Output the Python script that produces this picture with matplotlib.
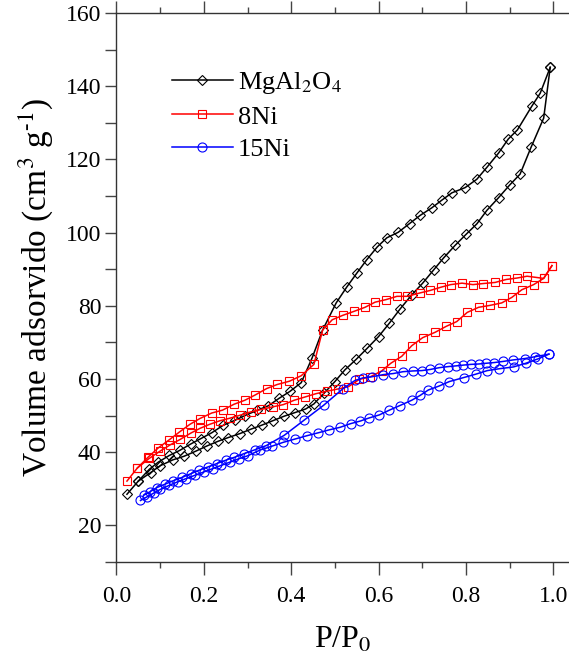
import matplotlib
matplotlib.use("Agg")
import matplotlib.pyplot as plt
from matplotlib.ticker import MultipleLocator

plt.rcParams['font.family'] = ['Liberation Serif', 'DejaVu Serif']
plt.rcParams['mathtext.fontset'] = 'stix'

# MgAl2O4 support
mg_ads_p = [0.024, 0.05, 0.078, 0.10, 0.129, 0.155, 0.182, 0.207, 0.233, 0.256, 0.283, 0.308,
            0.333, 0.358, 0.383, 0.408, 0.433, 0.452, 0.476, 0.500, 0.523, 0.549, 0.574, 0.600,
            0.625, 0.649, 0.676, 0.701, 0.726, 0.749, 0.775, 0.800, 0.825, 0.848, 0.875, 0.900,
            0.924, 0.949, 0.978, 0.993]
mg_ads_v = [28.5, 32.1, 34.4, 36.3, 37.9, 38.9, 40.3, 41.7, 43.0, 44.0, 45.1, 46.3,
            47.4, 48.6, 49.8, 50.8, 51.8, 53.2, 56.2, 59.3, 62.5, 65.4, 68.4, 71.6,
            75.3, 79.1, 83.0, 86.2, 89.8, 93.1, 96.5, 99.5, 102.4, 106.1, 109.6, 113.0,
            116.0, 123.3, 131.3, 145.2]
mg_des_p = [0.993, 0.970, 0.951, 0.918, 0.897, 0.875, 0.849, 0.825, 0.798, 0.768, 0.745, 0.722,
            0.695, 0.671, 0.645, 0.619, 0.597, 0.573, 0.550, 0.527, 0.503, 0.472, 0.448, 0.423,
            0.397, 0.372, 0.348, 0.321, 0.294, 0.271, 0.245, 0.218, 0.193, 0.171, 0.145, 0.121,
            0.096, 0.075, 0.050]
mg_des_v = [145.2, 138.1, 134.6, 128.1, 125.6, 121.8, 118.0, 114.6, 112.3, 110.9, 108.9, 106.8,
            104.7, 102.5, 100.1, 98.6, 96.1, 92.6, 88.9, 85.1, 80.8, 73.4, 65.8, 59.0,
            56.6, 54.7, 52.7, 51.4, 50.0, 48.7, 47.4, 45.3, 43.7, 42.3, 40.5, 39.1,
            37.3, 35.3, 32.1]

# 8Ni
ni8_ads_p = [0.024, 0.048, 0.075, 0.10, 0.123, 0.146, 0.170, 0.191, 0.213, 0.237, 0.260, 0.283,
             0.307, 0.332, 0.358, 0.382, 0.407, 0.432, 0.457, 0.483, 0.508, 0.531, 0.556, 0.581,
             0.607, 0.628, 0.653, 0.676, 0.701, 0.730, 0.755, 0.779, 0.803, 0.829, 0.854, 0.882,
             0.905, 0.928, 0.955, 0.978, 0.997]
ni8_ads_v = [32.1, 35.7, 38.3, 40.3, 42.0, 43.5, 45.2, 46.5, 47.6, 48.6, 49.3, 50.1,
             51.0, 51.7, 52.4, 53.0, 54.2, 55.1, 56.0, 56.7, 57.3, 57.9, 59.9, 60.6,
             62.2, 64.3, 66.2, 69.1, 71.3, 72.8, 74.4, 75.7, 78.2, 79.6, 80.1, 80.8,
             82.3, 84.4, 85.8, 87.5, 91.0]
ni8_des_p = [0.997, 0.978, 0.940, 0.917, 0.892, 0.867, 0.840, 0.816, 0.791, 0.765, 0.743, 0.718,
             0.694, 0.666, 0.642, 0.617, 0.592, 0.569, 0.544, 0.518, 0.494, 0.472, 0.452, 0.423,
             0.396, 0.368, 0.344, 0.317, 0.294, 0.269, 0.243, 0.218, 0.191, 0.168, 0.144, 0.121,
             0.096, 0.073, 0.048]
ni8_des_v = [91.0, 87.5, 88.1, 87.6, 87.2, 86.4, 86.1, 85.8, 86.2, 85.8, 85.1, 84.2,
             83.5, 82.6, 82.6, 81.7, 81.0, 79.6, 78.5, 77.4, 76.2, 73.4, 64.0, 60.9,
             59.4, 58.5, 57.4, 55.6, 54.2, 53.1, 51.5, 50.7, 49.2, 47.6, 45.5, 43.4,
             41.2, 38.7, 35.7]

# 15Ni
ni15_ads_p = [0.055, 0.070, 0.085, 0.100, 0.120, 0.140, 0.160, 0.180, 0.200, 0.220, 0.240, 0.260,
              0.280, 0.300, 0.329, 0.355, 0.382, 0.409, 0.436, 0.462, 0.487, 0.512, 0.536, 0.558,
              0.577, 0.602, 0.625, 0.648, 0.676, 0.695, 0.714, 0.739, 0.762, 0.795, 0.822, 0.849,
              0.876, 0.909, 0.937, 0.965, 0.990]
ni15_ads_v = [26.8, 27.8, 28.8, 29.8, 30.9, 31.9, 32.8, 33.7, 34.6, 35.5, 36.4, 37.3,
              38.2, 39.0, 40.6, 41.6, 42.7, 43.6, 44.5, 45.3, 46.1, 46.8, 47.8, 48.5,
              49.3, 50.2, 51.5, 52.7, 54.2, 55.5, 57.0, 58.1, 59.3, 60.4, 61.3, 62.3,
              62.8, 63.3, 64.3, 65.5, 66.8]
ni15_des_p = [0.990, 0.959, 0.935, 0.907, 0.885, 0.865, 0.846, 0.829, 0.811, 0.794, 0.778, 0.760,
              0.739, 0.718, 0.699, 0.678, 0.656, 0.634, 0.611, 0.584, 0.564, 0.546, 0.518, 0.474,
              0.429, 0.384, 0.343, 0.318, 0.292, 0.270, 0.250, 0.230, 0.210, 0.190, 0.170, 0.150,
              0.130, 0.110, 0.092, 0.077, 0.062]
ni15_des_v = [66.8, 66.1, 65.6, 65.2, 64.8, 64.5, 64.3, 64.1, 64.0, 63.8, 63.6, 63.4,
              63.1, 62.6, 62.3, 62.2, 62.0, 61.5, 61.2, 60.6, 60.3, 59.6, 57.3, 52.8,
              48.7, 44.6, 41.8, 40.7, 39.6, 38.6, 37.8, 36.9, 36.0, 35.1, 34.1, 33.1,
              32.2, 31.2, 30.3, 29.2, 28.2]

fig = plt.figure(figsize=(5.69, 6.58), dpi=100)
ax = fig.add_axes([0.2047, 0.146, 0.7953, 0.834])

style = dict(lw=1.1, mew=0.8, mfc='none')
ax.plot(mg_ads_p, mg_ads_v, '-D', color='black', ms=4.8, label='MgAl$_2$O$_4$', **style)
ax.plot(mg_des_p, mg_des_v, '-D', color='black', ms=4.8, **style)
ax.plot(ni8_ads_p, ni8_ads_v, '-s', color='red', ms=6, label='8Ni', **style)
ax.plot(ni8_des_p, ni8_des_v, '-s', color='red', ms=6, **style)
ax.plot(ni15_ads_p, ni15_ads_v, '-o', color='blue', ms=6.5, label='15Ni', **style)
ax.plot(ni15_des_p, ni15_des_v, '-o', color='blue', ms=6.5, **style)

ax.set_xlim(0, 1.036)
ax.set_ylim(10, 160)
ax.xaxis.set_major_locator(MultipleLocator(0.2))
ax.xaxis.set_minor_locator(MultipleLocator(0.1))
ax.yaxis.set_major_locator(MultipleLocator(20))
ax.yaxis.set_minor_locator(MultipleLocator(10))
ax.set_yticks(range(20, 161, 20))
ax.set_xticks([0.0, 0.2, 0.4, 0.6, 0.8, 1.0])
ax.set_xticklabels(['0.0', '0.2', '0.4', '0.6', '0.8', '1.0'])

ax.spines['right'].set_visible(False)
for s in ['left', 'bottom', 'top']:
    ax.spines[s].set_linewidth(1.0)
    ax.spines[s].set_color('#333333')

ax.tick_params(axis='x', which='major', direction='out', length=9, width=1.0,
               color='#444444', labelsize=17, pad=8, top=True)
ax.tick_params(axis='x', which='minor', direction='out', length=4.5, width=1.0,
               color='#444444', top=True)
ax.tick_params(axis='y', which='both', direction='out', length=8, width=1.0,
               color='#444444', labelsize=17, pad=3)

ax.set_xlabel('P/P$_0$', fontsize=23, labelpad=14)
ax.set_ylabel('Volume adsorvido (cm$^3$ g$^{\\text{-}1}$)', fontsize=24, labelpad=8)

leg = ax.legend(loc='upper left', bbox_to_anchor=(0.07, 0.94), frameon=False,
                fontsize=19, numpoints=1, handlelength=2.3, handletextpad=0.2,
                labelspacing=0.35)

fig.savefig('out.png', dpi=100)
